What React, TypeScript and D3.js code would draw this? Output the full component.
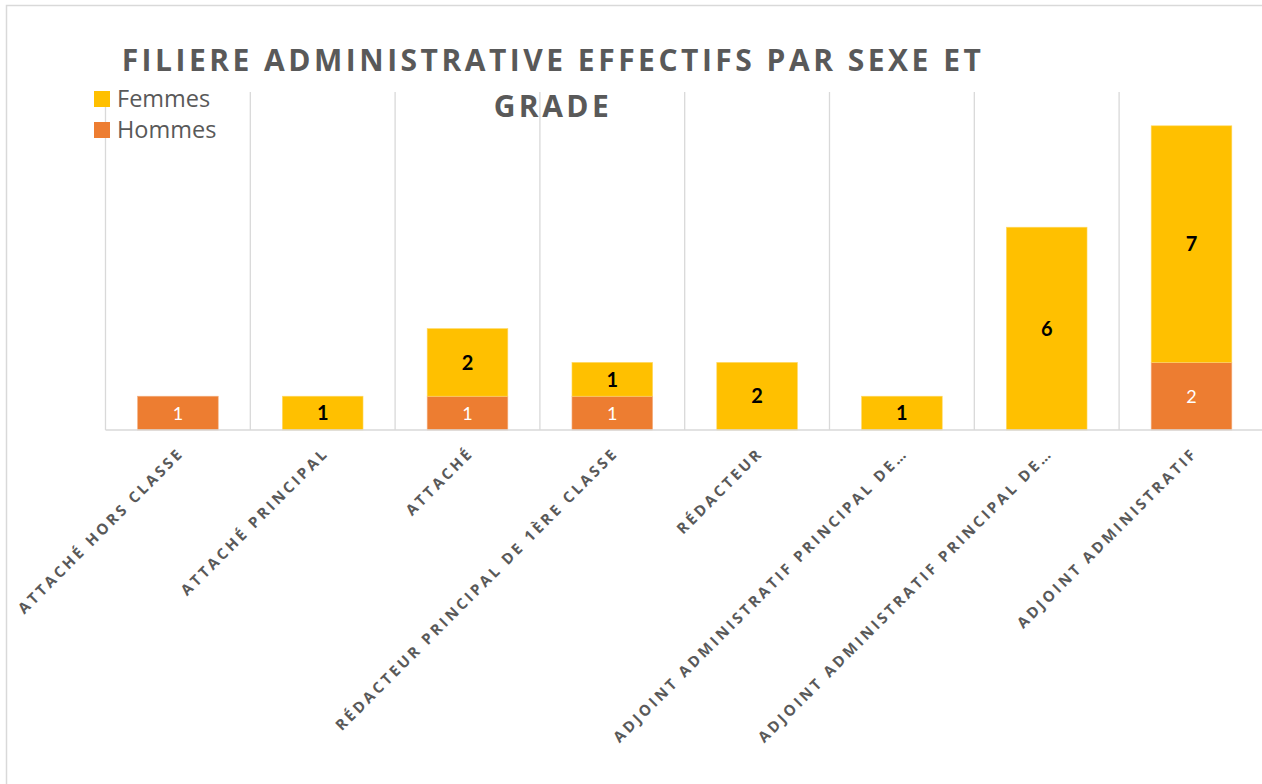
import React from "react";
import * as d3 from "d3";

const categories = [
  "ATTACHÉ HORS CLASSE",
  "ATTACHÉ PRINCIPAL",
  "ATTACHÉ",
  "RÉDACTEUR PRINCIPAL DE 1ÈRE CLASSE",
  "RÉDACTEUR",
  "ADJOINT ADMINISTRATIF PRINCIPAL DE…",
  "ADJOINT ADMINISTRATIF PRINCIPAL DE…",
  "ADJOINT ADMINISTRATIF",
];
const hommes = [1, 0, 1, 1, 0, 0, 0, 2];
const femmes = [0, 1, 2, 1, 2, 1, 6, 7];
const seriesNames = ["Femmes", "Hommes"];
const yMax = 10;
const titleLines = ["FILIERE ADMINISTRATIVE EFFECTIFS PAR SEXE ET", "GRADE"];

const W = 1262;
const H = 784;
const COL_F = "#FFC000";
const COL_H = "#ED7D31";
const GRID = "#D9D9D9";
const TXT = "#595959";

export default function App() {
  const left = 105.5;
  const step = 144.8;
  const ids = categories.map((_, i) => String(i));
  const x = d3
    .scaleBand<string>()
    .domain(ids)
    .range([left, left + step * categories.length])
    .paddingInner(0.443)
    .paddingOuter(0.2215);
  const y = d3.scaleLinear().domain([0, yMax]).range([430, 92]);
  const bw = x.bandwidth();

  return (
    <svg
      width={W}
      height={H}
      style={{ position: "absolute", left: 0, top: 0, background: "#fff" }}
    >
      <rect x={6.5} y={5.5} width={1300} height={800} fill="#fff" stroke={GRID} strokeWidth={1.5} />
      {d3.range(categories.length + 1).map((i) => (
        <line
          key={"g" + i}
          x1={left + i * step}
          x2={left + i * step}
          y1={y(yMax)}
          y2={y(0)}
          stroke={GRID}
          strokeWidth={1.3}
        />
      ))}
      {ids.map((id, i) => {
        const cx = (x(id) as number) + bw / 2;
        const h0 = y(0);
        const h1 = y(hommes[i]);
        const f1 = y(hommes[i] + femmes[i]);
        return (
          <g key={"b" + i}>
            {hommes[i] > 0 && (
              <rect x={x(id)} y={h1} width={bw} height={h0 - h1} fill={COL_H} stroke="#F4B183" strokeWidth={0.6} />
            )}
            {femmes[i] > 0 && (
              <rect x={x(id)} y={f1} width={bw} height={h1 - f1} fill={COL_F} stroke="#FFD966" strokeWidth={0.6} />
            )}
            {hommes[i] > 0 && (
              <text
                x={cx}
                y={(h0 + h1) / 2}
                dy="0.36em"
                textAnchor="middle"
                fill="#fff"
                fontFamily="Lato, 'Open Sans', sans-serif"
                fontSize={18}
              >
                {hommes[i]}
              </text>
            )}
            {femmes[i] > 0 && (
              <text
                x={cx}
                y={(h1 + f1) / 2}
                dy="0.36em"
                textAnchor="middle"
                fill="#000"
                fontFamily="Lato, 'Open Sans', sans-serif"
                fontWeight="bold"
                fontSize={20}
              >
                {femmes[i]}
              </text>
            )}
          </g>
        );
      })}
      <line x1={left} x2={W + 10} y1={y(0)} y2={y(0)} stroke={GRID} strokeWidth={1.5} />
      {ids.map((id, i) => {
        const cx = (x(id) as number) + bw / 2;
        return (
          <text
            key={"l" + i}
            transform={`translate(${cx + 7},${y(0) + 24}) rotate(-45)`}
            textAnchor="end"
            fill={TXT}
            fontFamily="'Open Sans', sans-serif"
            fontWeight="bold"
            fontSize={15}
            letterSpacing={3}
          >
            {categories[i]}
          </text>
        );
      })}
      {titleLines.map((t, i) => (
        <text
          key={"t" + i}
          x={553}
          y={71 + i * 46}
          textAnchor="middle"
          fill={TXT}
          fontFamily="'Open Sans', sans-serif"
          fontWeight="bold"
          fontSize={30}
          letterSpacing={3.5}
        >
          {t}
        </text>
      ))}
      {seriesNames.map((s, i) => (
        <g key={"lg" + i}>
          <rect x={94} y={91 + i * 31} width={16} height={16} fill={i === 0 ? COL_F : COL_H} />
          <text
            x={117}
            y={107 + i * 31}
            fill={TXT}
            fontFamily="'Open Sans', sans-serif"
            fontSize={23.5}
          >
            {s}
          </text>
        </g>
      ))}
    </svg>
  );
}
